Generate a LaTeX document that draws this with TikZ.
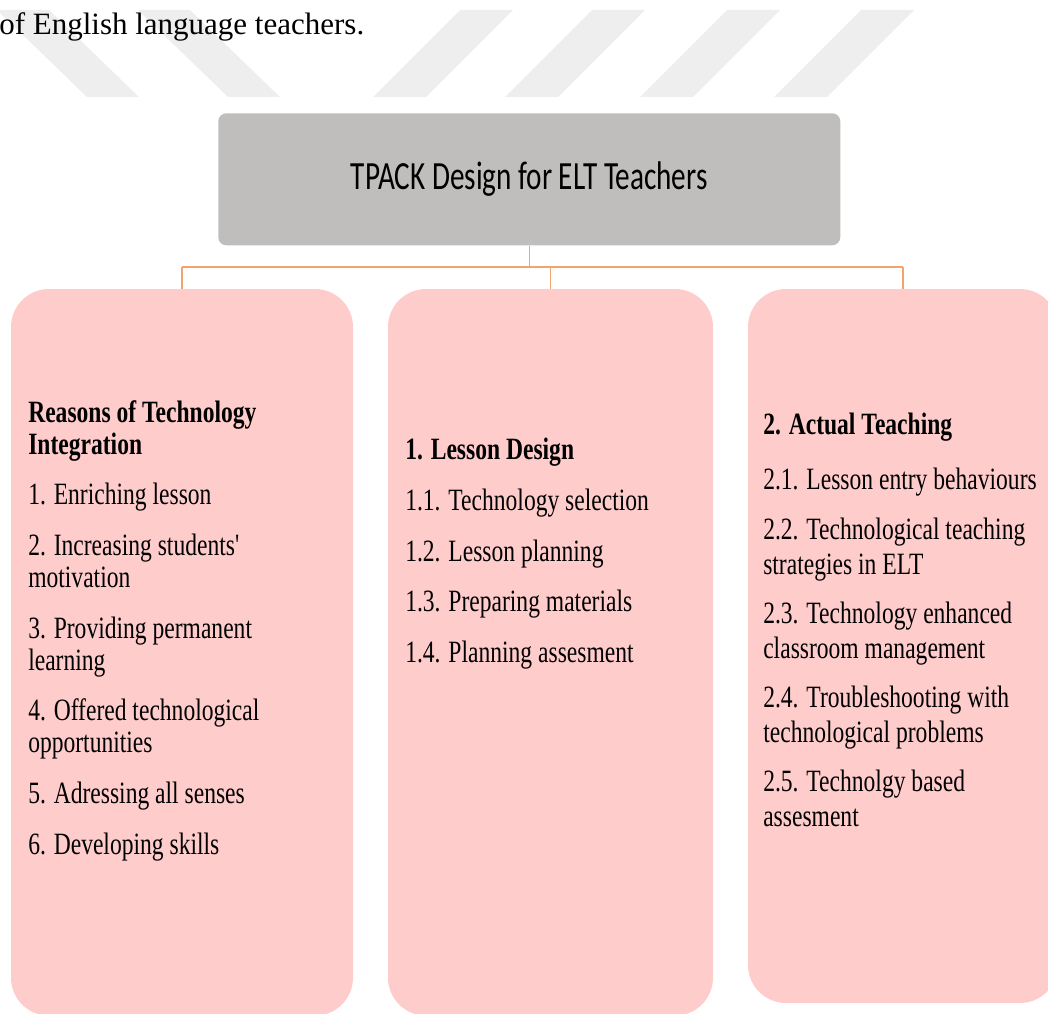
\documentclass[tikz,border=0pt]{standalone}
\usepackage{fontspec}
\setmainfont{Liberation Serif}
\newfontfamily\boxfont{Liberation Serif}[FakeStretch=0.76]
\newfontfamily\titlefont{Carlito}[FakeStretch=0.73]
\definecolor{boxpink}{RGB}{255,204,204}
\definecolor{boxgray}{RGB}{191,190,188}
\definecolor{linkorange}{RGB}{244,162,110}
\definecolor{stripegray}{RGB}{238,238,238}
\tikzset{
    stripe/.style={fill=stripegray},
    branch/.style={fill=boxpink, rounded corners=28.5pt, anchor=north west, inner sep=0pt, outer sep=0pt},
    items/.style={anchor=north west, align=left, inner sep=0pt,
        font=\boxfont\fontsize{23.25pt}{24pt}\selectfont},
    link/.style={draw=linkorange, line width=1.1pt},
}
\begin{document}
\begin{tikzpicture}[x=0.75pt, y=-0.75pt]
    \useasboundingbox (0,0) rectangle (1048,1013);
    \clip (0,0) rectangle (1048,1013);
    % watermark stripes
    \foreach \s in {-3,138}
        \fill[stripe] (\s,10) -- ++(52,0) -- ++(90,87) -- ++(-52,0) -- cycle;
    \foreach \s in {460,592,727,861}
        \fill[stripe] (\s,10) -- ++(53,0) -- ++(-87,87) -- ++(-53,0) -- cycle;
    \node[anchor=base west, inner sep=0pt, font=\fontsize{23.25pt}{24pt}\selectfont] (caption) at (-1,35) {of English language teachers.};

    \node[fill=boxgray, rounded corners=6pt, anchor=north west, inner sep=0pt,
        minimum width=466.5pt, minimum height=99pt] (title) at (218,113) {};
    \node[font=\titlefont\fontsize{30pt}{36pt}\selectfont] (titletext) at (title.center) {TPACK Design for ELT Teachers};

    \node[branch, minimum width=256.5pt, minimum height=545pt] (reasons) at (11,289) {};
    \node[branch, minimum width=243.75pt, minimum height=545pt] (design) at (388,289) {};
    \node[branch, minimum width=232.5pt, minimum height=535.5pt] (teaching) at (748,289) {};

    % connectors
    \coordinate (bus) at (0,267);
    \draw[link] (title.south) -- (title.south |- bus);
    \draw[link] (reasons.north |- bus) -- (teaching.north |- bus);
    \foreach \b in {reasons,design,teaching}
        \draw[link] (\b.north |- bus) -- (\b.north);

    \node[items] (reasonstext) at (28,400) {\textbf{Reasons of Technology}\\
        \textbf{Integration}\\[14pt]
        1. Enriching lesson\\[14pt]
        2. Increasing students\textquotesingle\\
        motivation\\[14pt]
        3. Providing permanent\\
        learning\\[14pt]
        4. Offered technological\\
        opportunities\\[14pt]
        5. Adressing all senses\\[14pt]
        6. Developing skills};
    \node[items] (designtext) at (405,438) {\textbf{1. Lesson Design}\\[14pt]
        1.1. Technology selection\\[14pt]
        1.2. Lesson planning\\[14pt]
        1.3. Preparing materials\\[14pt]
        1.4. Planning assesment};
    \node[items, font=\boxfont\fontsize{23.25pt}{26.25pt}\selectfont] (teachingtext) at (763,413) {\textbf{2. Actual Teaching}\\[15pt]
        2.1. Lesson entry behaviours\\[11pt]
        2.2. Technological teaching\\
        strategies in ELT\\[10.5pt]
        2.3. Technology enhanced\\
        classroom management\\[10.5pt]
        2.4. Troubleshooting with\\
        technological problems\\[10.5pt]
        2.5. Technolgy based\\
        assesment};
\end{tikzpicture}
\end{document}
